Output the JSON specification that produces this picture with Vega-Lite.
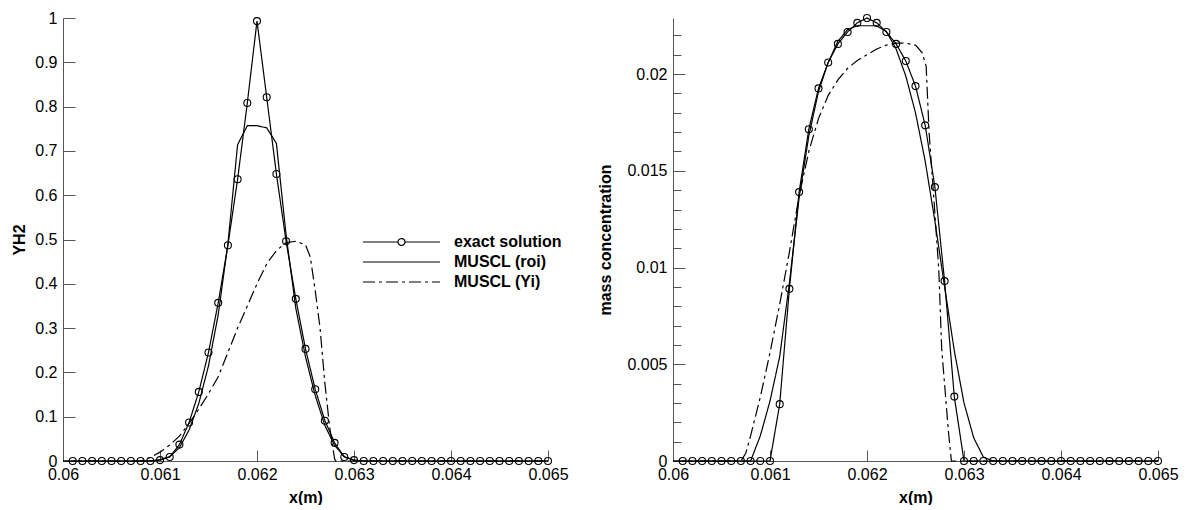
{
  "$schema": "https://vega.github.io/schema/vega-lite/v6.json",
  "background": "white",
  "padding": {"left": 11, "top": 10, "right": 0, "bottom": 0},
  "bounds": "flush",
  "spacing": 125,
  "config": {
    "font": "Liberation Sans",
    "view": {"stroke": null},
    "axis": {
      "grid": false,
      "domainColor": "#555555",
      "tickColor": "#555555",
      "labelColor": "black",
      "titleColor": "black",
      "labelFont": "Liberation Sans",
      "titleFont": "Liberation Sans",
      "labelFontSize": 16,
      "titleFontSize": 16,
      "titleFontWeight": "bold",
      "labelFlush": false,
      "labelOverlap": false
    }
  },
  "datasets": {
    "L": [
      {"x": 0.0601, "y": 0, "s": "exact solution"},
      {"x": 0.0602, "y": 0, "s": "exact solution"},
      {"x": 0.0603, "y": 0, "s": "exact solution"},
      {"x": 0.0604, "y": 0, "s": "exact solution"},
      {"x": 0.0605, "y": 0, "s": "exact solution"},
      {"x": 0.0606, "y": 0, "s": "exact solution"},
      {"x": 0.0607, "y": 0, "s": "exact solution"},
      {"x": 0.0608, "y": 0, "s": "exact solution"},
      {"x": 0.0609, "y": 0, "s": "exact solution"},
      {"x": 0.0610, "y": 0.002, "s": "exact solution"},
      {"x": 0.0611, "y": 0.009, "s": "exact solution"},
      {"x": 0.0612, "y": 0.037, "s": "exact solution"},
      {"x": 0.0613, "y": 0.087, "s": "exact solution"},
      {"x": 0.0614, "y": 0.156, "s": "exact solution"},
      {"x": 0.0615, "y": 0.245, "s": "exact solution"},
      {"x": 0.0616, "y": 0.357, "s": "exact solution"},
      {"x": 0.0617, "y": 0.487, "s": "exact solution"},
      {"x": 0.0618, "y": 0.636, "s": "exact solution"},
      {"x": 0.0619, "y": 0.808, "s": "exact solution"},
      {"x": 0.0620, "y": 0.993, "s": "exact solution"},
      {"x": 0.0621, "y": 0.821, "s": "exact solution"},
      {"x": 0.0622, "y": 0.648, "s": "exact solution"},
      {"x": 0.0623, "y": 0.496, "s": "exact solution"},
      {"x": 0.0624, "y": 0.366, "s": "exact solution"},
      {"x": 0.0625, "y": 0.253, "s": "exact solution"},
      {"x": 0.0626, "y": 0.162, "s": "exact solution"},
      {"x": 0.0627, "y": 0.091, "s": "exact solution"},
      {"x": 0.0628, "y": 0.041, "s": "exact solution"},
      {"x": 0.0629, "y": 0.009, "s": "exact solution"},
      {"x": 0.0630, "y": 0.002, "s": "exact solution"},
      {"x": 0.0631, "y": 0, "s": "exact solution"},
      {"x": 0.0632, "y": 0, "s": "exact solution"},
      {"x": 0.0633, "y": 0, "s": "exact solution"},
      {"x": 0.0634, "y": 0, "s": "exact solution"},
      {"x": 0.0635, "y": 0, "s": "exact solution"},
      {"x": 0.0636, "y": 0, "s": "exact solution"},
      {"x": 0.0637, "y": 0, "s": "exact solution"},
      {"x": 0.0638, "y": 0, "s": "exact solution"},
      {"x": 0.0639, "y": 0, "s": "exact solution"},
      {"x": 0.0640, "y": 0, "s": "exact solution"},
      {"x": 0.0641, "y": 0, "s": "exact solution"},
      {"x": 0.0642, "y": 0, "s": "exact solution"},
      {"x": 0.0643, "y": 0, "s": "exact solution"},
      {"x": 0.0644, "y": 0, "s": "exact solution"},
      {"x": 0.0645, "y": 0, "s": "exact solution"},
      {"x": 0.0646, "y": 0, "s": "exact solution"},
      {"x": 0.0647, "y": 0, "s": "exact solution"},
      {"x": 0.0648, "y": 0, "s": "exact solution"},
      {"x": 0.0649, "y": 0, "s": "exact solution"},
      {"x": 0.0650, "y": 0, "s": "exact solution"},
      {"x": 0.0600, "y": 0, "s": "MUSCL (roi)"},
      {"x": 0.0608, "y": 0, "s": "MUSCL (roi)"},
      {"x": 0.0609, "y": 0.0005, "s": "MUSCL (roi)"},
      {"x": 0.0610, "y": 0.003, "s": "MUSCL (roi)"},
      {"x": 0.0611, "y": 0.01, "s": "MUSCL (roi)"},
      {"x": 0.0612, "y": 0.03, "s": "MUSCL (roi)"},
      {"x": 0.0613, "y": 0.07, "s": "MUSCL (roi)"},
      {"x": 0.0614, "y": 0.13, "s": "MUSCL (roi)"},
      {"x": 0.0615, "y": 0.215, "s": "MUSCL (roi)"},
      {"x": 0.0616, "y": 0.33, "s": "MUSCL (roi)"},
      {"x": 0.0617, "y": 0.49, "s": "MUSCL (roi)"},
      {"x": 0.0618, "y": 0.714, "s": "MUSCL (roi)"},
      {"x": 0.0619, "y": 0.757, "s": "MUSCL (roi)"},
      {"x": 0.0620, "y": 0.757, "s": "MUSCL (roi)"},
      {"x": 0.0621, "y": 0.752, "s": "MUSCL (roi)"},
      {"x": 0.0622, "y": 0.717, "s": "MUSCL (roi)"},
      {"x": 0.0623, "y": 0.51, "s": "MUSCL (roi)"},
      {"x": 0.0624, "y": 0.345, "s": "MUSCL (roi)"},
      {"x": 0.0625, "y": 0.235, "s": "MUSCL (roi)"},
      {"x": 0.0626, "y": 0.148, "s": "MUSCL (roi)"},
      {"x": 0.0627, "y": 0.08, "s": "MUSCL (roi)"},
      {"x": 0.0628, "y": 0.035, "s": "MUSCL (roi)"},
      {"x": 0.0629, "y": 0.01, "s": "MUSCL (roi)"},
      {"x": 0.0630, "y": 0.002, "s": "MUSCL (roi)"},
      {"x": 0.0631, "y": 0, "s": "MUSCL (roi)"},
      {"x": 0.0650, "y": 0, "s": "MUSCL (roi)"},
      {"x": 0.0600, "y": 0, "s": "MUSCL (Yi)"},
      {"x": 0.0608, "y": 0, "s": "MUSCL (Yi)"},
      {"x": 0.0609, "y": 0.008, "s": "MUSCL (Yi)"},
      {"x": 0.0610, "y": 0.02, "s": "MUSCL (Yi)"},
      {"x": 0.0611, "y": 0.036, "s": "MUSCL (Yi)"},
      {"x": 0.0612, "y": 0.056, "s": "MUSCL (Yi)"},
      {"x": 0.0613, "y": 0.085, "s": "MUSCL (Yi)"},
      {"x": 0.0614, "y": 0.117, "s": "MUSCL (Yi)"},
      {"x": 0.0615, "y": 0.152, "s": "MUSCL (Yi)"},
      {"x": 0.0616, "y": 0.19, "s": "MUSCL (Yi)"},
      {"x": 0.0617, "y": 0.245, "s": "MUSCL (Yi)"},
      {"x": 0.0618, "y": 0.30, "s": "MUSCL (Yi)"},
      {"x": 0.0619, "y": 0.35, "s": "MUSCL (Yi)"},
      {"x": 0.0620, "y": 0.40, "s": "MUSCL (Yi)"},
      {"x": 0.0621, "y": 0.445, "s": "MUSCL (Yi)"},
      {"x": 0.0622, "y": 0.475, "s": "MUSCL (Yi)"},
      {"x": 0.0623, "y": 0.493, "s": "MUSCL (Yi)"},
      {"x": 0.0624, "y": 0.496, "s": "MUSCL (Yi)"},
      {"x": 0.0625, "y": 0.488, "s": "MUSCL (Yi)"},
      {"x": 0.06255, "y": 0.46, "s": "MUSCL (Yi)"},
      {"x": 0.0626, "y": 0.385, "s": "MUSCL (Yi)"},
      {"x": 0.06265, "y": 0.3, "s": "MUSCL (Yi)"},
      {"x": 0.0627, "y": 0.175, "s": "MUSCL (Yi)"},
      {"x": 0.06275, "y": 0.075, "s": "MUSCL (Yi)"},
      {"x": 0.0628, "y": 0.005, "s": "MUSCL (Yi)"},
      {"x": 0.06281, "y": 0, "s": "MUSCL (Yi)"},
      {"x": 0.0650, "y": 0, "s": "MUSCL (Yi)"}
    ],
    "R": [
      {"x": 0.0601, "y": 0, "s": "exact solution"},
      {"x": 0.0602, "y": 0, "s": "exact solution"},
      {"x": 0.0603, "y": 0, "s": "exact solution"},
      {"x": 0.0604, "y": 0, "s": "exact solution"},
      {"x": 0.0605, "y": 0, "s": "exact solution"},
      {"x": 0.0606, "y": 0, "s": "exact solution"},
      {"x": 0.0607, "y": 0, "s": "exact solution"},
      {"x": 0.0608, "y": 0, "s": "exact solution"},
      {"x": 0.0609, "y": 0, "s": "exact solution"},
      {"x": 0.0610, "y": 0, "s": "exact solution"},
      {"x": 0.0611, "y": 0.00294, "s": "exact solution"},
      {"x": 0.0612, "y": 0.0089, "s": "exact solution"},
      {"x": 0.0613, "y": 0.0139, "s": "exact solution"},
      {"x": 0.0614, "y": 0.01715, "s": "exact solution"},
      {"x": 0.0615, "y": 0.01926, "s": "exact solution"},
      {"x": 0.0616, "y": 0.0206, "s": "exact solution"},
      {"x": 0.0617, "y": 0.02156, "s": "exact solution"},
      {"x": 0.0618, "y": 0.02218, "s": "exact solution"},
      {"x": 0.0619, "y": 0.02265, "s": "exact solution"},
      {"x": 0.0620, "y": 0.0229, "s": "exact solution"},
      {"x": 0.0621, "y": 0.02265, "s": "exact solution"},
      {"x": 0.0622, "y": 0.02218, "s": "exact solution"},
      {"x": 0.0623, "y": 0.02156, "s": "exact solution"},
      {"x": 0.0624, "y": 0.02068, "s": "exact solution"},
      {"x": 0.0625, "y": 0.01938, "s": "exact solution"},
      {"x": 0.0626, "y": 0.01735, "s": "exact solution"},
      {"x": 0.0627, "y": 0.01416, "s": "exact solution"},
      {"x": 0.0628, "y": 0.0093, "s": "exact solution"},
      {"x": 0.0629, "y": 0.00333, "s": "exact solution"},
      {"x": 0.0630, "y": 0, "s": "exact solution"},
      {"x": 0.0631, "y": 0, "s": "exact solution"},
      {"x": 0.0632, "y": 0, "s": "exact solution"},
      {"x": 0.0633, "y": 0, "s": "exact solution"},
      {"x": 0.0634, "y": 0, "s": "exact solution"},
      {"x": 0.0635, "y": 0, "s": "exact solution"},
      {"x": 0.0636, "y": 0, "s": "exact solution"},
      {"x": 0.0637, "y": 0, "s": "exact solution"},
      {"x": 0.0638, "y": 0, "s": "exact solution"},
      {"x": 0.0639, "y": 0, "s": "exact solution"},
      {"x": 0.0640, "y": 0, "s": "exact solution"},
      {"x": 0.0641, "y": 0, "s": "exact solution"},
      {"x": 0.0642, "y": 0, "s": "exact solution"},
      {"x": 0.0643, "y": 0, "s": "exact solution"},
      {"x": 0.0644, "y": 0, "s": "exact solution"},
      {"x": 0.0645, "y": 0, "s": "exact solution"},
      {"x": 0.0646, "y": 0, "s": "exact solution"},
      {"x": 0.0647, "y": 0, "s": "exact solution"},
      {"x": 0.0648, "y": 0, "s": "exact solution"},
      {"x": 0.0649, "y": 0, "s": "exact solution"},
      {"x": 0.0650, "y": 0, "s": "exact solution"},
      {"x": 0.0600, "y": 0, "s": "MUSCL (roi)"},
      {"x": 0.0608, "y": 0, "s": "MUSCL (roi)"},
      {"x": 0.0609, "y": 0.0013, "s": "MUSCL (roi)"},
      {"x": 0.0610, "y": 0.0031, "s": "MUSCL (roi)"},
      {"x": 0.0611, "y": 0.0054, "s": "MUSCL (roi)"},
      {"x": 0.0612, "y": 0.0092, "s": "MUSCL (roi)"},
      {"x": 0.0613, "y": 0.0136, "s": "MUSCL (roi)"},
      {"x": 0.0614, "y": 0.0168, "s": "MUSCL (roi)"},
      {"x": 0.0615, "y": 0.0191, "s": "MUSCL (roi)"},
      {"x": 0.0616, "y": 0.0206, "s": "MUSCL (roi)"},
      {"x": 0.0617, "y": 0.0217, "s": "MUSCL (roi)"},
      {"x": 0.0618, "y": 0.0223, "s": "MUSCL (roi)"},
      {"x": 0.0619, "y": 0.0225, "s": "MUSCL (roi)"},
      {"x": 0.0620, "y": 0.0225, "s": "MUSCL (roi)"},
      {"x": 0.0621, "y": 0.0225, "s": "MUSCL (roi)"},
      {"x": 0.0622, "y": 0.0222, "s": "MUSCL (roi)"},
      {"x": 0.0623, "y": 0.0213, "s": "MUSCL (roi)"},
      {"x": 0.0624, "y": 0.0199, "s": "MUSCL (roi)"},
      {"x": 0.0625, "y": 0.0180, "s": "MUSCL (roi)"},
      {"x": 0.0626, "y": 0.0155, "s": "MUSCL (roi)"},
      {"x": 0.0627, "y": 0.0124, "s": "MUSCL (roi)"},
      {"x": 0.0628, "y": 0.0090, "s": "MUSCL (roi)"},
      {"x": 0.0629, "y": 0.0057, "s": "MUSCL (roi)"},
      {"x": 0.0630, "y": 0.0030, "s": "MUSCL (roi)"},
      {"x": 0.0631, "y": 0.0012, "s": "MUSCL (roi)"},
      {"x": 0.0632, "y": 0.0002, "s": "MUSCL (roi)"},
      {"x": 0.0633, "y": 0, "s": "MUSCL (roi)"},
      {"x": 0.0650, "y": 0, "s": "MUSCL (roi)"},
      {"x": 0.0600, "y": 0, "s": "MUSCL (Yi)"},
      {"x": 0.0607, "y": 0, "s": "MUSCL (Yi)"},
      {"x": 0.06075, "y": 0.0004, "s": "MUSCL (Yi)"},
      {"x": 0.0608, "y": 0.0013, "s": "MUSCL (Yi)"},
      {"x": 0.0609, "y": 0.0033, "s": "MUSCL (Yi)"},
      {"x": 0.0610, "y": 0.0056, "s": "MUSCL (Yi)"},
      {"x": 0.0611, "y": 0.0081, "s": "MUSCL (Yi)"},
      {"x": 0.0612, "y": 0.0108, "s": "MUSCL (Yi)"},
      {"x": 0.0613, "y": 0.0137, "s": "MUSCL (Yi)"},
      {"x": 0.0614, "y": 0.0160, "s": "MUSCL (Yi)"},
      {"x": 0.0615, "y": 0.0177, "s": "MUSCL (Yi)"},
      {"x": 0.0616, "y": 0.0189, "s": "MUSCL (Yi)"},
      {"x": 0.0617, "y": 0.0197, "s": "MUSCL (Yi)"},
      {"x": 0.0618, "y": 0.0203, "s": "MUSCL (Yi)"},
      {"x": 0.0619, "y": 0.0207, "s": "MUSCL (Yi)"},
      {"x": 0.0620, "y": 0.0210, "s": "MUSCL (Yi)"},
      {"x": 0.0621, "y": 0.0213, "s": "MUSCL (Yi)"},
      {"x": 0.0622, "y": 0.0215, "s": "MUSCL (Yi)"},
      {"x": 0.0623, "y": 0.0216, "s": "MUSCL (Yi)"},
      {"x": 0.0624, "y": 0.0216, "s": "MUSCL (Yi)"},
      {"x": 0.0625, "y": 0.0215, "s": "MUSCL (Yi)"},
      {"x": 0.06257, "y": 0.0211, "s": "MUSCL (Yi)"},
      {"x": 0.06261, "y": 0.0204, "s": "MUSCL (Yi)"},
      {"x": 0.06264, "y": 0.017, "s": "MUSCL (Yi)"},
      {"x": 0.06269, "y": 0.0135, "s": "MUSCL (Yi)"},
      {"x": 0.06274, "y": 0.0099, "s": "MUSCL (Yi)"},
      {"x": 0.06277, "y": 0.0058, "s": "MUSCL (Yi)"},
      {"x": 0.06284, "y": 0.0015, "s": "MUSCL (Yi)"},
      {"x": 0.06287, "y": 0, "s": "MUSCL (Yi)"},
      {"x": 0.0650, "y": 0, "s": "MUSCL (Yi)"}
    ]
  },
  "hconcat": [
    {
      "width": 485,
      "height": 443,
      "data": {"name": "L"},
      "layer": [
        {
          "mark": {"type": "line", "color": "black", "clip": false},
          "encoding": {
            "x": {"field": "x", "type": "quantitative", "scale": {"domain": [0.06, 0.065], "nice": false, "zero": false},
              "axis": {"values": [0.06, 0.061, 0.062, 0.063, 0.064, 0.065], "format": "~g", "tickSize": -11, "labelPadding": 16, "title": "x(m)", "titlePadding": 7}},
            "y": {"field": "y", "type": "quantitative", "scale": {"domain": [0, 1], "nice": false},
              "axis": {"values": [0, 0.1, 0.2, 0.3, 0.4, 0.5, 0.6, 0.7, 0.8, 0.9, 1], "format": "~g", "tickSize": -12, "labelPadding": 18, "labelOverlap": false, "title": "YH2", "titlePadding": 7}},
            "strokeDash": {"field": "s", "type": "nominal",
              "scale": {"domain": ["exact solution", "MUSCL (roi)", "MUSCL (Yi)"], "range": [[1, 0], [1, 0], [12, 4, 3, 4]]},
              "legend": {
                "orient": "none", "legendX": 299, "legendY": 214, "title": null, "padding": 0,
                "symbolType": "M-1,0L1,0", "symbolSize": 5929, "symbolStrokeColor": "black", "symbolStrokeWidth": 1.3,
                "symbolFillColor": "transparent", "clipHeight": 20, "rowPadding": 0, "labelOffset": 13,
                "labelFontSize": 16, "labelFontWeight": "bold", "labelFont": "Liberation Sans", "labelColor": "black", "labelLimit": 400,
                "encode": {"symbols": {"update": {"shape": [
                  {"test": "datum.value === 'exact solution'", "value": "M-1,0L-0.09,0M0.09,0L1,0M-0.09,0A0.09,0.09,0,1,0,0.09,0A0.09,0.09,0,1,0,-0.09,0"},
                  {"value": "M-1,0L1,0"}
                ]}}}
              }},
            "strokeWidth": {"field": "s", "type": "nominal", "scale": {"domain": ["exact solution", "MUSCL (roi)", "MUSCL (Yi)"], "range": [1.2, 1.2, 1.9]}, "legend": null}
          }
        },
        {
          "transform": [{"filter": "datum.s === 'exact solution'"}],
          "mark": {"type": "point", "shape": "circle", "filled": false, "color": "black", "size": 49, "strokeWidth": 1.1, "opacity": 1, "clip": false},
          "encoding": {
            "x": {"field": "x", "type": "quantitative"},
            "y": {"field": "y", "type": "quantitative"}
          }
        }
      ]
    },
    {
      "width": 485,
      "height": 443,
      "data": {"name": "R"},
      "resolve": {"axis": {"y": "independent"}},
      "layer": [
        {
          "mark": {"type": "line", "color": "black", "clip": false},
          "encoding": {
            "x": {"field": "x", "type": "quantitative", "scale": {"domain": [0.06, 0.065], "nice": false, "zero": false},
              "axis": {"values": [0.06, 0.061, 0.062, 0.063, 0.064, 0.065], "format": "~g", "tickSize": -11, "labelPadding": 16, "title": "x(m)", "titlePadding": 7}},
            "y": {"field": "y", "type": "quantitative", "scale": {"domain": [0, 0.0229], "nice": false},
              "axis": {"orient": "left", "values": [0, 0.005, 0.01, 0.015, 0.02],
                "format": "~g",
                "labelOverlap": false,
                "tickSize": -12,
                "labelPadding": 18, "title": "mass concentration", "titlePadding": 13}},
            "strokeDash": {"field": "s", "type": "nominal",
              "scale": {"domain": ["exact solution", "MUSCL (roi)", "MUSCL (Yi)"], "range": [[1, 0], [1, 0], [12, 4, 3, 4]]},
              "legend": {
                "orient": "none", "legendX": 308, "legendY": 188, "title": null, "padding": 0,
                "symbolType": "M-1,0L1,0", "symbolSize": 5929, "symbolStrokeColor": "black", "symbolStrokeWidth": 1.3,
                "symbolFillColor": "transparent", "clipHeight": 20, "rowPadding": 0, "labelOffset": 13,
                "labelFontSize": 16, "labelFontWeight": "bold", "labelFont": "Liberation Sans", "labelColor": "black", "labelLimit": 400,
                "encode": {"symbols": {"update": {"shape": [
                  {"test": "datum.value === 'exact solution'", "value": "M-1,0L-0.09,0M0.09,0L1,0M-0.09,0A0.09,0.09,0,1,0,0.09,0A0.09,0.09,0,1,0,-0.09,0"},
                  {"value": "M-1,0L1,0"}
                ]}}}
              }},
            "strokeWidth": {"field": "s", "type": "nominal", "scale": {"domain": ["exact solution", "MUSCL (roi)", "MUSCL (Yi)"], "range": [1.2, 1.2, 1.9]}, "legend": null}
          }
        },
        {
          "transform": [{"filter": "datum.s === 'exact solution'"}],
          "mark": {"type": "point", "shape": "circle", "filled": false, "color": "black", "size": 49, "strokeWidth": 1.1, "opacity": 1, "clip": false},
          "encoding": {
            "x": {"field": "x", "type": "quantitative"},
            "y": {"field": "y", "type": "quantitative",
              "axis": {"orient": "left", "values": [0.001, 0.002, 0.003, 0.004, 0.006, 0.007, 0.008, 0.009, 0.011, 0.012, 0.013, 0.014, 0.016, 0.017, 0.018, 0.019, 0.021, 0.022],
                "labels": false, "domain": false, "tickSize": -8, "title": null}}
          }
        }
      ]
    }
  ]
}
